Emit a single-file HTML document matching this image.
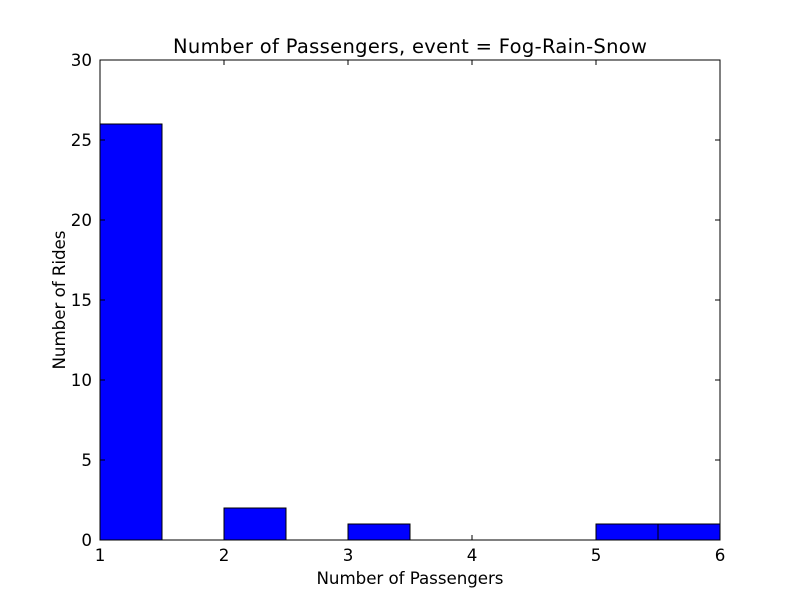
<!DOCTYPE html>
<html><head><meta charset="utf-8"><style>
body{margin:0;background:#fff;}
text{font-family:"DejaVu Sans","Liberation Sans",sans-serif;fill:#000;}
</style></head><body>
<svg id="chart" width="800" height="600" xmlns="http://www.w3.org/2000/svg">
<rect width="800" height="600" fill="#fff"/>
<g id="bars"></g>
<g id="ticks"></g>
<rect x="100" y="60" width="620" height="480" fill="none" stroke="#000" stroke-width="1"/>
<text x="410" y="53" font-size="19.5" text-anchor="middle" textLength="474">Number of Passengers, event = Fog-Rain-Snow</text>
<text x="410" y="584" font-size="16.7" text-anchor="middle" textLength="187">Number of Passengers</text>
<text x="65" y="300" font-size="16.7" text-anchor="middle" textLength="139" transform="rotate(-90 65 300)">Number of Rides</text>
</svg>
<script>
const binEdges=[1,1.5,2,2.5,3,3.5,4,4.5,5,5.5,6];
const counts=[26,0,2,0,1,0,0,0,1,1];
const xTicks=[1,2,3,4,5,6];
const yTicks=[0,5,10,15,20,25,30];
const X0=100,X1=720,Y0=540,Y1=60;
const xs=v=>X0+(v-1)/(6-1)*(X1-X0);
const ys=v=>Y0-(v/30)*(Y0-Y1);
const NS="http://www.w3.org/2000/svg";
const bars=document.getElementById('bars'),ticks=document.getElementById('ticks');
counts.forEach((c,i)=>{
  if(c<=0)return;
  const r=document.createElementNS(NS,'rect');
  r.setAttribute('x',xs(binEdges[i]));r.setAttribute('y',ys(c));
  r.setAttribute('width',xs(binEdges[i+1])-xs(binEdges[i]));r.setAttribute('height',ys(0)-ys(c));
  r.setAttribute('fill','#0000ff');r.setAttribute('stroke','#000');r.setAttribute('stroke-width','1');
  
  
  bars.appendChild(r);
});
function line(x1,y1,x2,y2){const l=document.createElementNS(NS,'line');l.setAttribute('x1',x1);l.setAttribute('y1',y1);l.setAttribute('x2',x2);l.setAttribute('y2',y2);l.setAttribute('stroke','#000');


ticks.appendChild(l);}
function txt(x,y,s,anchor,name){const t=document.createElementNS(NS,'text');t.setAttribute('x',x);t.setAttribute('y',y);t.setAttribute('font-size','16.7');t.setAttribute('text-anchor',anchor);t.textContent=s;


ticks.appendChild(t);}
xTicks.forEach(v=>{const x=xs(v);line(x,Y0,x,Y0-5);line(x,Y1,x,Y1+5);txt(x,Y0+21,v,'middle','x-tick-label');});
yTicks.forEach(v=>{const y=ys(v);line(X0,y,X0+5,y);line(X1,y,X1-5,y);txt(X0-8,y+6,v,'end','y-tick-label');});
</script>
</body></html>
